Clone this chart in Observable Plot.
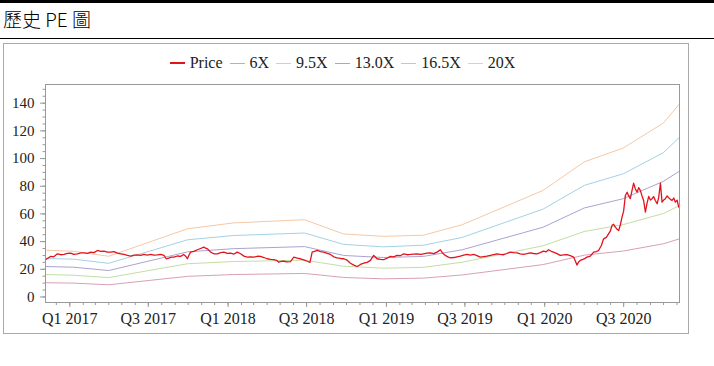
<!DOCTYPE html>
<html><head><meta charset="utf-8">
<script src="https://cdn.jsdelivr.net/npm/d3@7"></script>
<script src="https://cdn.jsdelivr.net/npm/@observablehq/plot@0.6"></script>
<style>
html,body{margin:0;padding:0;background:#fff;}
body{width:714px;height:366px;position:relative;overflow:hidden;}
#bar{position:absolute;left:0;top:0;width:714px;height:3px;background:#000;}
#title{position:absolute;left:3px;top:7px;font-family:"Noto Sans CJK TC";font-weight:300;font-size:19px;line-height:24px;color:#000;white-space:nowrap;}
#rule{position:absolute;left:0;top:38px;width:714px;height:1px;background:#000;}
#box{position:absolute;left:3px;top:43px;width:684px;height:289px;border:1px solid #aaa;}
#chart{position:absolute;left:0;top:0;}
#legend{position:absolute;left:0;top:10px;width:684px;display:flex;justify-content:center;align-items:center;font-family:"Liberation Serif";font-size:16px;color:#222;line-height:18px;}
.item{display:flex;align-items:center;margin-right:7px;}
.sw{width:15px;margin-right:5px;}
</style>
</head><body>
<div id="bar"></div>
<div id="title">歷史 PE 圖</div>
<div id="rule"></div>
<div id="box"><div id="chart"></div><div id="legend"></div></div>
<script>
// ---- data ----
const seriesNames = ["Price", "6X", "9.5X", "13.0X", "16.5X", "20X"];
const seriesColors = ["#e3131e", "#d9a0b4", "#c3dea3", "#a9a4d0", "#a3d2e3", "#f5c8a6"];

// band knot times (decimal years) and values
const bandT = [2016.847, 2017.025, 2017.246, 2017.744, 2018.035, 2018.483, 2018.729, 2018.981, 2019.233, 2019.479, 2019.990, 2020.249, 2020.495, 2020.747, 2020.849];
const band6 = [10.3, 10.0, 8.8, 14.9, 16.2, 17.0, 14.1, 13.1, 13.6, 15.9, 23.4, 30.2, 33.2, 38.4, 42.0];
const band95 = [16.2, 15.7, 14.0, 24.0, 25.6, 26.6, 22.2, 20.8, 21.4, 25.1, 37.0, 47.3, 52.3, 60.3, 66.0];
const band13 = [22.0, 21.5, 19.1, 32.6, 34.9, 36.4, 30.0, 28.5, 29.3, 34.1, 50.4, 64.3, 71.0, 83.5, 90.9];
const band165 = [27.8, 27.3, 24.3, 41.3, 44.4, 46.2, 38.0, 36.2, 37.4, 43.0, 63.5, 80.6, 89.0, 104.2, 115.4];
const band20 = [33.8, 33.0, 29.4, 49.3, 53.5, 55.8, 45.5, 43.8, 44.6, 52.2, 77.0, 97.6, 107.6, 125.6, 139.5];

// price: [decimal year, value]
const price = [
[2016.847,27.0],[2016.861,28.0],[2016.880,29.3],[2016.899,29.0],[2016.922,31.2],[2016.943,30.5],[2016.964,30.7],[2016.985,31.5],
[2017.006,31.7],[2017.025,30.8],[2017.049,31.2],[2017.069,31.8],[2017.090,31.9],[2017.112,31.5],[2017.132,32.4],[2017.153,32.0],[2017.175,33.6],[2017.196,33.0],[2017.216,33.1],[2017.238,32.4],[2017.259,32.4],
[2017.279,32.8],[2017.301,31.7],[2017.322,31.2],[2017.343,30.7],[2017.364,30.0],[2017.385,29.5],[2017.406,30.2],[2017.427,30.4],[2017.448,30.0],[2017.469,30.7],[2017.490,30.3],[2017.511,30.7],[2017.532,30.2],[2017.553,30.4],[2017.574,30.8],[2017.595,30.0],
[2017.609,27.6],[2017.625,28.0],[2017.642,28.8],[2017.658,28.8],[2017.679,29.6],[2017.700,29.3],[2017.719,30.7],[2017.732,29.5],[2017.743,27.6],[2017.754,30.5],[2017.763,32.4],
[2017.784,33.0],[2017.806,34.1],[2017.826,35.0],[2017.847,36.0],[2017.858,35.2],[2017.869,34.8],[2017.890,32.4],[2017.910,31.2],[2017.932,31.2],[2017.953,32.0],[2017.973,32.4],[2017.995,31.5],[2018.016,31.7],[2018.037,31.0],[2018.058,32.4],
[2018.079,31.2],[2018.100,29.5],[2018.121,28.8],[2018.142,29.0],[2018.163,28.8],[2018.184,29.4],[2018.205,29.3],[2018.226,28.5],[2018.247,27.6],[2018.268,27.2],[2018.289,26.9],[2018.310,26.2],[2018.320,25.1],[2018.338,25.8],[2018.352,25.8],[2018.373,25.4],[2018.394,25.6],
[2018.415,28.8],[2018.437,28.0],[2018.457,27.6],[2018.478,26.8],[2018.500,25.8],[2018.517,25.0],
[2018.531,32.4],[2018.546,33.0],[2018.563,33.6],[2018.584,32.8],[2018.604,32.4],[2018.626,31.5],[2018.647,30.7],[2018.667,29.0],[2018.689,28.3],[2018.710,27.8],[2018.731,27.6],[2018.752,26.6],[2018.773,24.4],[2018.794,23.0],[2018.815,22.0],[2018.836,23.5],[2018.857,24.4],[2018.878,25.0],[2018.899,26.4],[2018.920,30.0],[2018.941,27.6],[2018.962,27.2],[2018.983,26.9],
[2019.004,28.0],[2019.025,29.3],[2019.046,29.0],[2019.067,30.0],[2019.088,29.8],[2019.109,31.2],[2019.131,30.5],[2019.151,30.7],[2019.172,31.0],[2019.194,31.2],[2019.214,30.8],[2019.235,31.2],[2019.257,31.6],[2019.278,31.9],[2019.298,31.3],[2019.320,32.4],[2019.341,34.1],
[2019.356,31.5],[2019.372,30.0],[2019.388,29.0],[2019.404,28.3],[2019.425,28.5],[2019.446,29.0],[2019.467,29.5],[2019.488,30.2],[2019.509,30.7],[2019.530,30.2],[2019.551,30.7],[2019.572,29.8],[2019.593,28.8],[2019.614,29.2],[2019.635,29.5],[2019.656,30.0],[2019.677,30.6],[2019.698,31.2],[2019.719,30.8],[2019.740,30.5],[2019.761,31.4],[2019.782,32.4],[2019.803,32.0],[2019.825,31.9],[2019.845,31.2],[2019.866,30.7],[2019.888,31.3],[2019.908,31.9],[2019.929,31.4],[2019.951,31.2],[2019.972,32.0],[2019.992,33.1],
[2020.009,32.6],[2020.024,34.1],[2020.041,33.0],[2020.055,32.4],[2020.077,31.3],[2020.098,30.0],[2020.119,30.4],[2020.140,30.5],[2020.161,29.8],[2020.182,28.8],[2020.196,25.0],[2020.203,23.0],[2020.214,25.5],[2020.224,26.4],[2020.245,27.3],[2020.266,28.8],[2020.287,29.5],[2020.308,32.4],[2020.325,32.8],[2020.339,33.6],
[2020.356,37.0],[2020.371,42.0],[2020.388,43.0],[2020.403,45.7],[2020.413,47.5],[2020.424,51.7],[2020.434,52.5],[2020.445,50.4],[2020.455,49.0],[2020.466,48.0],[2020.476,52.0],[2020.487,57.7],[2020.497,62.0],[2020.508,73.3],[2020.519,75.7],[2020.529,73.0],[2020.539,71.0],[2020.550,77.0],[2020.560,82.2],[2020.571,78.0],[2020.582,75.7],[2020.592,79.0],[2020.602,77.0],[2020.613,73.0],[2020.623,69.7],[2020.634,61.3],[2020.645,68.0],[2020.655,72.6],[2020.666,70.0],[2020.676,71.0],[2020.686,72.5],[2020.697,69.7],[2020.708,67.3],[2020.718,72.0],[2020.729,82.2],[2020.739,68.5],[2020.749,70.0],[2020.760,71.0],[2020.771,73.0],[2020.781,71.7],[2020.792,70.5],[2020.802,69.7],[2020.813,71.5],[2020.823,68.5],[2020.834,70.0],[2020.844,64.9],[2020.849,66.0]
];

const xTickLabels = ["Q1 2017","Q3 2017","Q1 2018","Q3 2018","Q1 2019","Q3 2019","Q1 2020","Q3 2020"];
const yTicks = [0, 20, 40, 60, 80, 100, 120, 140];

// ---- build ----
function fromDec(t) {
  const y = Math.floor(t);
  const a = new Date(y, 0, 1), b = new Date(y + 1, 0, 1);
  return new Date(+a + (t - y) * (b - a));
}
function labelToDate(s) {
  const q = +s[1], y = +s.slice(3);
  return new Date(y, (q - 1) * 3, 1);
}
const xTickDates = xTickLabels.map(labelToDate);
const labelMap = new Map(xTickDates.map((d, i) => [+d, xTickLabels[i]]));

const bands = [band6, band95, band13, band165, band20];
const bandRows = bands.map((arr, k) => bandT.map((t, i) => ({date: fromDec(t), value: arr[i], series: seriesNames[k + 1]})));
const priceRows = price.map(([t, v]) => ({date: fromDec(t), value: v}));

const x0 = fromDec(bandT[0]), x1 = fromDec(bandT[bandT.length - 1]);
const monthTicks = d3.timeMonth.range(d3.timeMonth.ceil(x0), x1);
const minorY = d3.range(0, 151, 5);

const chart = Plot.plot({
  width: 684,
  height: 289,
  marginLeft: 41,
  marginRight: 9,
  marginTop: 40,
  marginBottom: 31,
  style: {fontFamily: "Liberation Serif", fontSize: "15px", color: "#222", background: "transparent"},
  x: {type: "time", domain: [x0, x1]},
  y: {domain: [-4, 153.5]},
  marks: [
    ...bandRows.map((rows, k) => Plot.line(rows, {x: "date", y: "value", stroke: seriesColors[k + 1], strokeWidth: 1})),
    Plot.line(priceRows, {x: "date", y: "value", stroke: seriesColors[0], strokeWidth: 1.3}),
    Plot.frame({stroke: "#999"}),
    Plot.axisY({ticks: minorY, tickSize: 2.5, tickFormat: () => "", stroke: "#999", label: null}),
    Plot.axisY({ticks: yTicks, tickSize: 5, tickPadding: 6, stroke: "#999", fontSize: 15, label: null}),
    Plot.axisX({ticks: monthTicks, tickSize: 3, tickFormat: () => "", stroke: "#999", label: null}),
    Plot.axisX({ticks: xTickDates, tickSize: 5, tickPadding: 5, tickFormat: d => labelMap.get(+d), stroke: "#999", fontSize: 16, label: null})
  ]
});
document.getElementById("chart").appendChild(chart);

const legend = document.getElementById("legend");
seriesNames.forEach((name, i) => {
  const item = document.createElement("div");
  item.className = "item";
  const sw = document.createElement("div");
  sw.className = "sw";
  sw.style.height = i === 0 ? "1.5px" : "1px";
  sw.style.background = seriesColors[i];
  const tx = document.createElement("span");
  tx.textContent = name;
  item.appendChild(sw);
  item.appendChild(tx);
  legend.appendChild(item);
});
</script>
</body></html>
